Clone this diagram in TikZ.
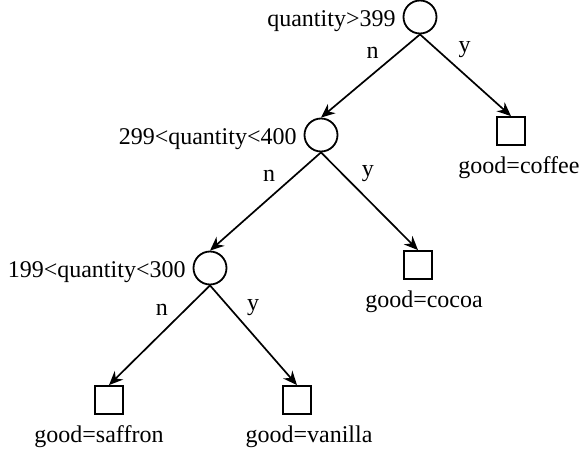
\documentclass[tikz,border=0pt]{standalone}
\usepackage{fontspec}
\setmainfont{Liberation Serif}
\usetikzlibrary{arrows.meta}
\begin{document}
\begin{tikzpicture}[x=0.5pt,y=-0.5pt,font=\fontsize{12}{14}\selectfont,
        test/.style={circle,draw,line width=0.9pt,minimum size=16.5pt,inner sep=0pt},
        leaf/.style={rectangle,draw,line width=0.9pt,minimum size=14pt,inner sep=0pt},
        branch/.style={-{Stealth[length=7pt,width=6pt]},line width=0.85pt},
        tag/.style={pos=0.36,inner sep=2.5pt}]
    \useasboundingbox (0,0) rectangle (580,450);
    % tests
    \node [test,label={[yshift=-2pt]left:{quantity>399}}] (t1) at (420,17) {};
    \node [test,label={[yshift=-2pt]left:{299<quantity<400}}] (t2) at (321,135) {};
    \node [test,label={[yshift=-2pt]left:{199<quantity<300}}] (t3) at (210,268) {};
    % leaves
    \node [leaf,label={[xshift=4pt,yshift=-2pt]below:{good=coffee}}] (coffee) at (511,131) {};
    \node [leaf,label={[xshift=3pt,yshift=-2pt]below:{good=cocoa}}] (cocoa) at (418,265) {};
    \node [leaf,label={[xshift=-5pt,yshift=-2pt]below:{good=saffron}}] (saffron) at (109,400) {};
    \node [leaf,label={[xshift=6pt,yshift=-2pt]below:{good=vanilla}}] (vanilla) at (297,400) {};
    % branches
    \draw [branch] (t1.south) -- node [tag,above left] {n} (t2.north);
    \draw [branch] (t1.south) -- node [tag,above right] {y} (coffee.north);
    \draw [branch] (t2.south) -- node [tag,above left] {n} (t3.north);
    \draw [branch] (t2.south) -- node [tag,above right] {y} (cocoa.north);
    \draw [branch] (t3.south) -- node [tag,above left] {n} (saffron.north);
    \draw [branch] (t3.south) -- node [tag,above right] {y} (vanilla.north);
\end{tikzpicture}
\end{document}
